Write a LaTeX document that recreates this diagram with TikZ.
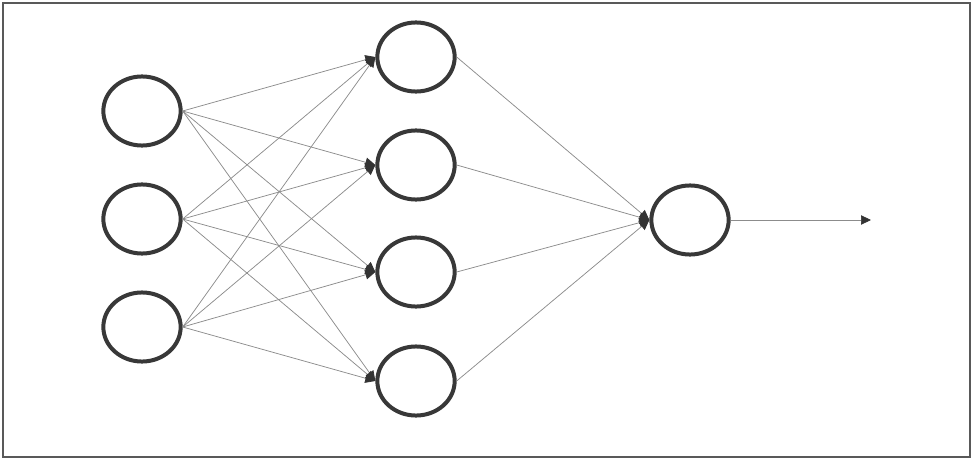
\documentclass[tikz,border=0pt]{standalone}
\usetikzlibrary{shapes.geometric,arrows.meta}
\begin{document}
\begin{tikzpicture}[x=0.75pt,y=-0.75pt,
  neuron/.style={ellipse,draw=black!78,line width=3pt,minimum width=58pt,minimum height=51.8pt,inner sep=0pt},
  conn/.style={draw=black!45,line width=0.55pt,-{Triangle[length=7.5pt,width=7pt,color=black!80]}},
  frame/.style={draw=black!65,line width=1.1pt}]
\useasboundingbox (0,0) rectangle (974,460);
\fill[white] (0,0) rectangle (974,460);
\draw[frame] (3,3) rectangle (970,457);
\node[neuron] (i1) at (142,111) {};
\node[neuron] (i2) at (142,219) {};
\node[neuron] (i3) at (142,327) {};
\node[neuron] (h1) at (416,57) {};
\node[neuron] (h2) at (416,165) {};
\node[neuron] (h3) at (416,272) {};
\node[neuron] (h4) at (416,381) {};
\node[neuron] (o) at (690,220) {};
\coordinate (out) at (871,220);
\foreach \i in {i1,i2,i3}{
  \foreach \h in {h1,h2,h3,h4}{
    \draw[conn] (\i.east) -- (\h.west);
  }
}
\foreach \h in {h1,h2,h3,h4}{
  \draw[conn] (\h.east) -- (o.west);
}
\draw[conn] (o.east) -- (out);
\end{tikzpicture}
\end{document}
